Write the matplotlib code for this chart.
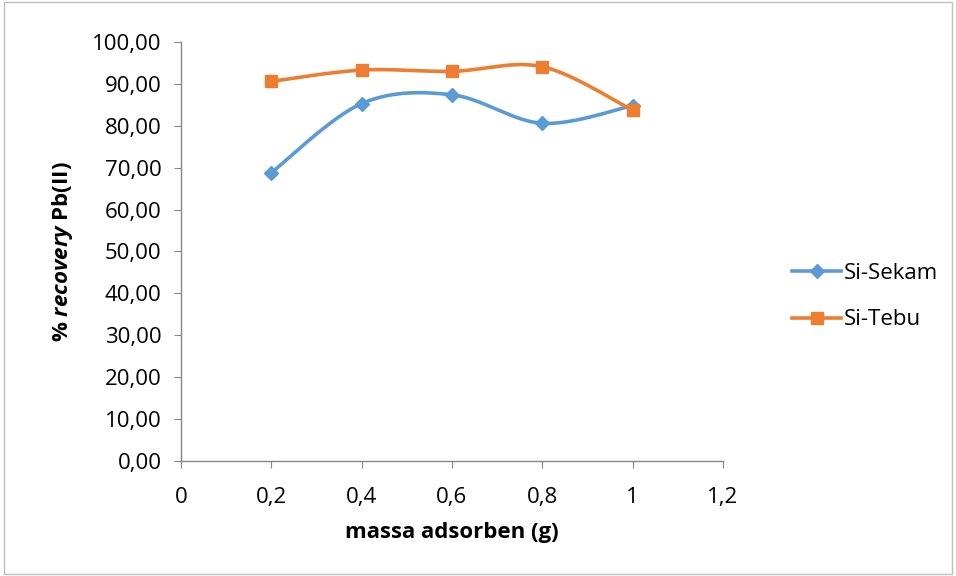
import numpy as np
import matplotlib.pyplot as plt
from matplotlib.patches import Rectangle

plt.rcParams['font.family'] = ['Open Sans', 'DejaVu Sans']
plt.rcParams['mathtext.fontset'] = 'custom'
plt.rcParams['mathtext.it'] = 'Open Sans:italic:bold'

massa = [0.2, 0.4, 0.6, 0.8, 1.0]
si_sekam = [68.8, 85.3, 87.4, 80.6, 84.8]
si_tebu = [90.6, 93.3, 93.0, 94.1, 83.7]


def kurva_halus(x, y, n=40):
    # spline Catmull-Rom, mirip garis halus Excel
    x = np.asarray(x, float)
    y = np.asarray(y, float)
    px = np.concatenate([[x[0]], x, [x[-1]]])
    py = np.concatenate([[y[0]], y, [y[-1]]])
    xs, ys = [], []
    t = np.linspace(0, 1, n)
    for i in range(1, len(px) - 2):
        p0, p1, p2, p3 = (np.array([px[j], py[j]]) for j in range(i - 1, i + 3))
        c1 = p1 + (p2 - p0) / 6
        c2 = p2 - (p3 - p1) / 6
        b = ((1 - t) ** 3)[:, None] * p1 + (3 * (1 - t) ** 2 * t)[:, None] * c1 \
            + (3 * (1 - t) * t ** 2)[:, None] * c2 + (t ** 3)[:, None] * p2
        xs.extend(b[:, 0])
        ys.extend(b[:, 1])
    return xs, ys


fig = plt.figure(figsize=(9.56, 5.76), dpi=100)
ax = fig.add_axes([0.1893, 0.1997, 0.5670, 0.7274])

biru = '#5B9BD5'
oranye = '#ED7D31'
fs = 16

sx, sy = kurva_halus(massa, si_sekam)
ax.plot(sx, sy, color=biru, lw=2.6, zorder=3)
ax.plot(massa, si_sekam, ls='none', marker='D', ms=7, color=biru, zorder=4)
tx, ty = kurva_halus(massa, si_tebu)
ax.plot(tx, ty, color=oranye, lw=2.6, zorder=3)
ax.plot(massa, si_tebu, ls='none', marker='s', ms=8.5, color=oranye, zorder=4)

# legenda
ax.plot([], [], color=biru, lw=2.6, marker='D', ms=7, label='Si-Sekam')
ax.plot([], [], color=oranye, lw=2.6, marker='s', ms=8.5, label='Si-Tebu')
ax.legend(loc='center left', bbox_to_anchor=(0.808, 0.485), bbox_transform=fig.transFigure,
          frameon=False, fontsize=fs, handlelength=2.2, handletextpad=0.1, labelspacing=1.15)

ax.set_xlim(0, 1.2)
ax.set_ylim(0, 100)
ax.set_xticks(np.arange(0, 1.21, 0.2))
ax.set_xticklabels(['0', '0,2', '0,4', '0,6', '0,8', '1', '1,2'])
ax.set_yticks(np.arange(0, 101, 10))
ax.set_yticklabels([f'{v:.2f}'.replace('.', ',') for v in range(0, 101, 10)])

for s in ['top', 'right']:
    ax.spines[s].set_visible(False)
for s in ['left', 'bottom']:
    ax.spines[s].set_color('#868686')
    ax.spines[s].set_linewidth(1)
ax.tick_params(axis='both', colors='#868686', labelcolor='black', labelsize=fs, length=5, direction='out')
ax.tick_params(axis='x', pad=14)
ax.tick_params(axis='y', pad=9)

ax.set_xlabel('massa adsorben (g)', fontsize=fs, fontweight='bold', labelpad=10)
ax.set_ylabel('% $\\mathit{recovery}$ Pb(II)', fontsize=fs, fontweight='bold', labelpad=12)

fig.patches.append(Rectangle((0.004, 0.004), 0.992, 0.992, transform=fig.transFigure,
                             fill=False, edgecolor='#BFBFBF', lw=1))

fig.savefig('out.png', dpi=100)
